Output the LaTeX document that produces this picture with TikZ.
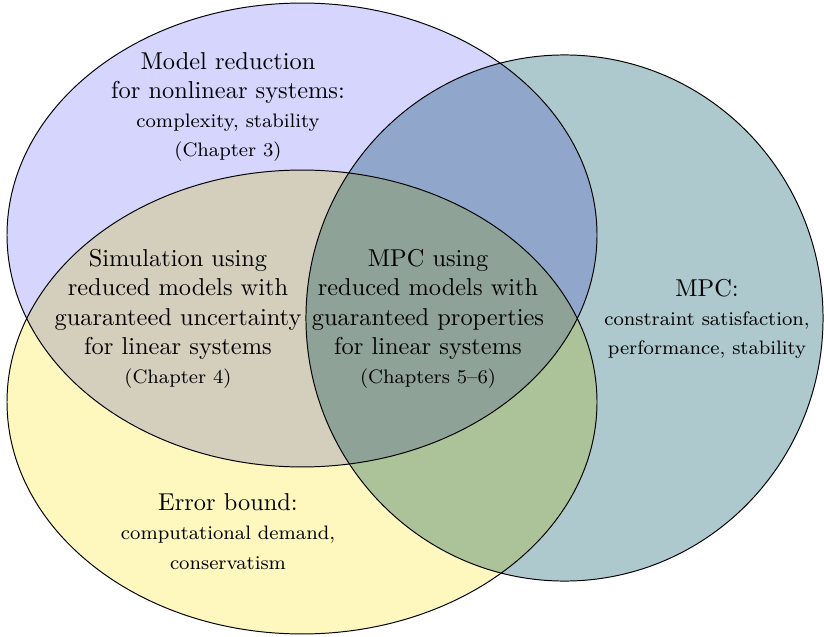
\documentclass[tikz,border=0pt]{standalone}
\usepackage{tikz}
\usepackage{xcolor}
\usetikzlibrary{positioning, shapes.geometric}

\definecolor{redblue}{RGB}{213,213,253}
\definecolor{erryellow}{RGB}{254,247,190}
\definecolor{mpcteal}{RGB}{173,201,205}

\begin{document}
\begin{tikzpicture}[x=0.41pt, y=0.41pt, on grid,
    set/.style={ellipse, draw, inner sep=0pt, blend mode=multiply},
    txt/.style={align=center, text=black}]
    \useasboundingbox (0,0) rectangle (824,636);

    % the three sets
    \node[set, fill=redblue, minimum width=241.9pt, minimum height=190.2pt] (red) at (302,401) {};
    \node[set, fill=erryellow, minimum width=241.9pt, minimum height=190.2pt] (err) at (302,234) {};
    \node[set, fill=mpcteal, minimum width=212pt, minimum height=215.7pt] (mpc) at (564.5,318) {};

    % labels
    \node[txt] (redtxt) at (228,529) {Model reduction\\for nonlinear systems:\\{\footnotesize complexity, stability}\\{\footnotesize (Chapter 3)}};
    \node[txt] (sim) at (178,317) {Simulation using\\reduced models with\\guaranteed uncertainty\\for linear systems\\{\footnotesize (Chapter 4)}};
    \node[txt, right=102.5pt of sim] (both) {MPC using\\reduced models with\\guaranteed properties\\for linear systems\\{\footnotesize (Chapters 5--6)}};
    \node[txt, right=114.4pt of both] (mpctxt) {MPC:\\{\footnotesize constraint satisfaction,}\\{\footnotesize performance, stability}};
    \node[txt] (errtxt) at (228,104.5) {Error bound:\\{\footnotesize computational demand,}\\{\footnotesize conservatism}};
\end{tikzpicture}
\end{document}
